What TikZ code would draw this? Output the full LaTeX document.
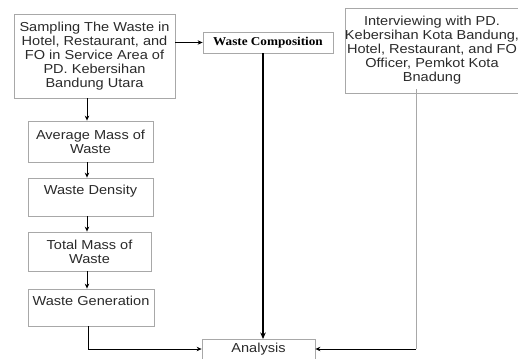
\documentclass[tikz,border=0pt]{standalone}
\usepackage{fontspec}
\setmainfont[FakeStretch=1.12]{Liberation Sans}
\newfontfamily\serifbf[FakeStretch=1.1]{Liberation Serif}
\usetikzlibrary{arrows.meta}
\definecolor{boxgray}{HTML}{A8A8A8}
\definecolor{txt}{HTML}{2A2A2A}
\begin{document}
\begin{tikzpicture}[x=1pt,y=-1pt,
  box/.style={draw=boxgray,line width=0.8pt,align=center,text=txt,inner sep=0pt,font=\fontsize{13}{14}\selectfont},
  arr/.style={-{Stealth[length=5pt,width=4.5pt]},line width=0.8pt,black},
  thickarr/.style={-{Stealth[length=6.5pt,width=5.5pt]},line width=1.5pt,black},
  gline/.style={line width=0.8pt,boxgray}]
\useasboundingbox (0,0) rectangle (518,358);
\clip (0,0) rectangle (518,358);
\node[box,minimum width=161pt,minimum height=84pt] (samp) at (94.5,56)
  {Sampling The Waste in\\Hotel, Restaurant, and\\FO in Service Area of\\PD. Kebersihan\\Bandung Utara};
\node[box,minimum width=130pt,minimum height=21pt,font=\serifbf\bfseries\fontsize{12}{13}\selectfont,text=black] (comp) at (268,42.5) {Waste Composition};
\node[box,minimum width=172pt,minimum height=85pt] (int) at (432,50.5)
  {Interviewing with PD.\\Kebersihan Kota Bandung,\\Hotel, Restaurant, and FO\\Officer, Pemkot Kota\\Bnadung};
\node[box,minimum width=125pt,minimum height=41pt] (avg) at (90.5,141.5) {Average Mass of\\Waste};
\node[box,minimum width=125pt,minimum height=38pt] (dens) at (90.5,197) {Waste Density\\\mbox{}};
\node[box,minimum width=123pt,minimum height=39pt] (tot) at (89.5,251.5) {Total Mass of\\Waste};
\node[box,minimum width=126pt,minimum height=37pt] (gen) at (91,307.5) {Waste Generation\\\mbox{}};
\node[box,minimum width=113pt,minimum height=30pt,anchor=north] (ana) at (258.5,339) {Analysis\\\mbox{}};
\coordinate (gc) at (88,349);
\coordinate (ic) at (416,349);
\draw[arr] (samp.east |- comp.west) -- (comp.west);
\draw[arr] (samp.south -| 87,0) -- (avg.north -| 87,0);
\draw[arr] (avg.south -| 87,0) -- (dens.north -| 87,0);
\draw[arr] (dens.south -| 87,0) -- (tot.north -| 87,0);
\draw[arr] (tot.south -| 87,0) -- (gen.north -| 87,0);
\draw[thickarr] (comp.south -| 263,0) -- (ana.north -| 263,0);
\draw[arr] (gen.south -| gc) -- (gc) -- (gc -| ana.west);
\draw[gline] ([yshift=4pt]int.south -| ic) -- (ic);
\draw[arr] (ic) -- (ic -| ana.east);
\end{tikzpicture}
\end{document}
